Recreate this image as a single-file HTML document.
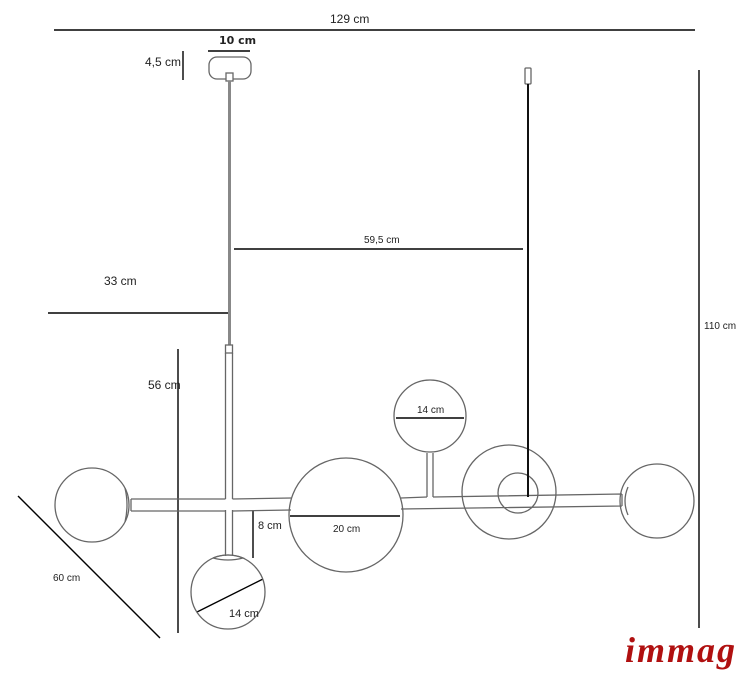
<!DOCTYPE html>
<html><head><meta charset="utf-8"><style>
html,body{margin:0;padding:0;background:#fff;}
svg{display:block;}
text{font-family:"Liberation Sans",sans-serif;fill:#222;}
</style></head><body>
<svg width="752" height="684" viewBox="0 0 752 684" xmlns="http://www.w3.org/2000/svg">
<g stroke="#000" stroke-width="1.4" fill="none">
<line x1="54" y1="30" x2="695" y2="30"/>
<line x1="208" y1="51" x2="250" y2="51"/>
<line x1="183" y1="51" x2="183" y2="80"/>
<line x1="234" y1="249" x2="523" y2="249"/>
<line x1="48" y1="313" x2="230" y2="313"/>
<line x1="699" y1="70" x2="699" y2="628"/>
<line x1="178" y1="349" x2="178" y2="633"/>
<line x1="18" y1="496" x2="160" y2="638"/>
<line x1="253" y1="510" x2="253" y2="558"/>
<line x1="290" y1="516" x2="400" y2="516"/>
<line x1="197" y1="612" x2="263" y2="579"/>
<line x1="396" y1="418" x2="464" y2="418"/>
</g>
<g stroke="#666" stroke-width="1.3" fill="none">
<rect x="209" y="57" width="42" height="22" rx="8"/>
<rect x="226" y="73" width="7" height="8" fill="#fff"/>
<line x1="229.5" y1="81" x2="229.5" y2="345" stroke="#888" stroke-width="3"/>
<rect x="225.5" y="345" width="7" height="8"/>
<path d="M225.5 353 L225.5 499 M232.5 353 L232.5 499 M225.5 510 L225.5 556 M232.5 510 L232.5 556"/>
<path d="M131 499 L225.5 499 M232.5 499 L291 498 M131 511 L225.5 511 M232.5 511 L291 510"/>
<path d="M401 498 L427 497 M433 497 L622 494 M401 509 L622 506 M131 499 L131 511 M622 494 L622 506"/>
<path d="M427 453 L427 497 M433 453 L433 497"/>
<circle cx="92" cy="505" r="37"/>
<path d="M125 488 Q129 505 125 522"/>
<circle cx="346" cy="515" r="57"/>
<circle cx="228" cy="592" r="37"/>
<path d="M213 558 Q228 552 243 558 Q228 562 213 558"/>
<circle cx="430" cy="416" r="36"/>
<circle cx="509" cy="492" r="47"/>
<circle cx="518" cy="493" r="20"/>
<circle cx="657" cy="501" r="37"/>
<path d="M628 487 Q622 501 628 515"/>
<rect x="525" y="68" width="6" height="16" rx="1"/>
</g>
<line x1="528" y1="84" x2="528" y2="497" stroke="#111" stroke-width="2"/>
<text x="330" y="23" font-size="12">129 cm</text>
<text x="219" y="44" font-size="11" font-weight="bold" style="font-family:'DejaVu Sans',sans-serif">10 cm</text>
<text x="145" y="66" font-size="12">4,5 cm</text>
<text x="364" y="243" font-size="10">59,5 cm</text>
<text x="104" y="285" font-size="12">33 cm</text>
<text x="704" y="329" font-size="10">110 cm</text>
<text x="148" y="389" font-size="12">56 cm</text>
<text x="417" y="413" font-size="10">14 cm</text>
<text x="258" y="529" font-size="11">8 cm</text>
<text x="333" y="532" font-size="10">20 cm</text>
<text x="229" y="617" font-size="11">14 cm</text>
<text x="53" y="581" font-size="10">60 cm</text>
<text x="625" y="662" font-size="36" font-weight="bold" font-style="italic" letter-spacing="2" style="font-family:'Liberation Serif',serif;fill:#b01010">immag</text>
</svg>
</body></html>
